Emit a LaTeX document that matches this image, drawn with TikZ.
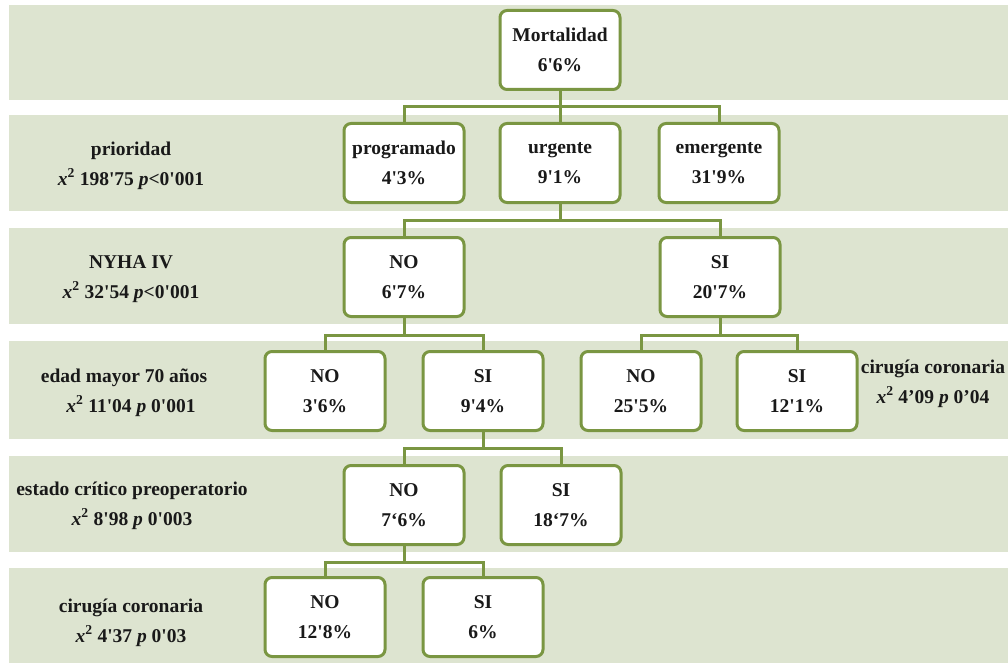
\documentclass[tikz,border=0pt]{standalone}
\usepackage{fontspec}
\setmainfont{Liberation Serif}[Ligatures=TeXOff]
\definecolor{bandc}{RGB}{221,228,208}
\definecolor{boxc}{RGB}{122,150,66}
\definecolor{txtc}{RGB}{25,25,25}
\newcommand{\dfont}{\fontsize{19.5}{29.5}\selectfont\bfseries}
\newcommand{\xsq}{\textit{x}\textsuperscript{2}}
\tikzset{
  band/.style={fill=bandc, draw=none},
  box/.style={draw=boxc, line width=3pt, rounded corners=7pt, fill=white,
    minimum width=120pt, minimum height=79pt, align=center, font=\dfont,
    text=txtc, inner sep=0pt},
  lab/.style={align=center, font=\dfont, text=txtc, inner sep=0pt},
  conn/.style={draw=boxc, line width=3pt}
}
\begin{document}
\begin{tikzpicture}[x=1pt,y=-1pt]
\useasboundingbox (0,0) rectangle (1008,663);
% bands
\fill[band] (9,5) rectangle (1008,100);
\fill[band] (9,115) rectangle (1008,211);
\fill[band] (9,228) rectangle (1008,324);
\fill[band] (9,341) rectangle (1008,439);
\fill[band] (9,456) rectangle (1008,552);
\fill[band] (9,568) rectangle (1008,663);
% level 1
\node[box] (mort) at (560,50) {Mortalidad\\6'6\%};
% level 2
\node[box] (prog) at (404,163) {programado\\4'3\%};
\node[box] (urg) at (560,163) {urgente\\9'1\%};
\node[box] (emer) at (719,163) {emergente\\31'9\%};
% level 3
\node[box] (nyno) at (404,277) {NO\\6'7\%};
\node[box] (nysi) at (720,277) {SI\\20'7\%};
% level 4
\node[box] (edno) at (325,391) {NO\\3'6\%};
\node[box] (edsi) at (483,391) {SI\\9'4\%};
\node[box] (ccno) at (641,391) {NO\\25'5\%};
\node[box] (ccsi) at (797,391) {SI\\12'1\%};
% level 5
\node[box] (ecno) at (404,505) {NO\\7‘6\%};
\node[box] (ecsi) at (561,505) {SI\\18‘7\%};
% level 6
\node[box] (cbno) at (325,617) {NO\\12'8\%};
\node[box] (cbsi) at (483,617) {SI\\6\%};
% labels
\node[lab] (l2) at (131,166) {prioridad\\\xsq{} 198'75 \textit{p}<0'001};
\node[lab] (l3) at (131,279) {NYHA IV\\\xsq{} 32'54 \textit{p}<0'001};
\node[lab] (l4) at (124,393) {edad mayor 70 años\\\hspace*{14pt}\xsq{} 11'04 \textit{p} 0'001};
\node[lab] (l5) at (132,506) {estado crítico preoperatorio\\\xsq{} 8'98 \textit{p} 0'003};
\node[lab] (l6) at (131,623) {cirugía coronaria\\\xsq{} 4'37 \textit{p} 0'03};
\node[lab] (l4r) at (933,384) {cirugía coronaria\\\xsq{} 4’09 \textit{p} 0’04};
% junctions
\coordinate (j1) at (560,107);
\coordinate (j2) at (560,220);
\coordinate (j3) at (404,335);
\coordinate (j3b) at (720,335);
\coordinate (j4) at (483,448);
\coordinate (j5) at (404,562);
% connectors
\draw[conn] (mort.south) -- (j1);
\draw[conn] (prog.north) |- (j1) -| (emer.north);
\draw[conn] (j1) -- (urg.north);
\draw[conn] (urg.south) -- (j2);
\draw[conn] (nyno.north) |- (j2) -| (nysi.north);
\draw[conn] (nyno.south) -- (j3);
\draw[conn] (edno.north) |- (j3) -| (edsi.north);
\draw[conn] (nysi.south) -- (j3b);
\draw[conn] (ccno.north) |- (j3b) -| (ccsi.north);
\draw[conn] (edsi.south) -- (j4);
\draw[conn] (ecno.north) |- (j4) -| (ecsi.north);
\draw[conn] (ecno.south) -- (j5);
\draw[conn] (cbno.north) |- (j5) -| (cbsi.north);
\end{tikzpicture}
\end{document}
